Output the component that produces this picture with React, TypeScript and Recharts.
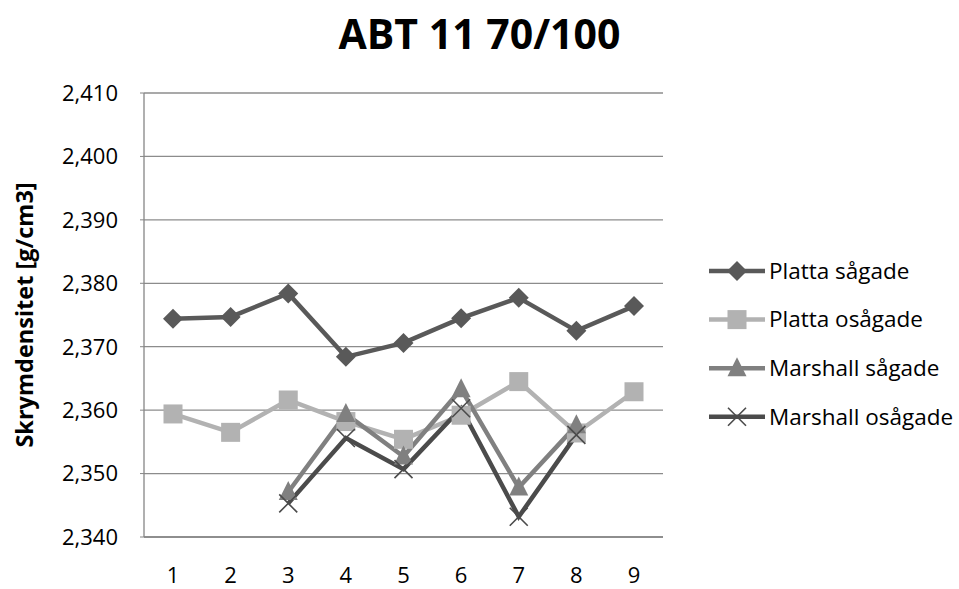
import { CartesianGrid, Line, LineChart, XAxis, YAxis } from 'recharts'

const categories = ['1', '2', '3', '4', '5', '6', '7', '8', '9']
const plattaSagade = [2.3744, 2.3747, 2.3784, 2.3684, 2.3706, 2.3745, 2.3777, 2.3725, 2.3764]
const plattaOsagade = [2.3594, 2.3565, 2.3616, 2.3582, 2.3554, 2.3592, 2.3645, 2.3564, 2.3629]
const marshallSagade = [null, null, 2.3471, 2.3594, 2.3527, 2.3633, 2.3478, 2.3576, null]
const marshallOsagade = [null, null, 2.3453, 2.3556, 2.3507, 2.3603, 2.3432, 2.3561, null]
const yTicks = [2.34, 2.35, 2.36, 2.37, 2.38, 2.39, 2.4, 2.41]

type MarkerKind = 'diamond' | 'square' | 'triangle' | 'cross'

interface SeriesDef {
  key: string
  label: string
  color: string
  marker: MarkerKind
}

const series: SeriesDef[] = [
  { key: 'ps', label: 'Platta sågade', color: '#595959', marker: 'diamond' },
  { key: 'po', label: 'Platta osågade', color: '#b2b2b2', marker: 'square' },
  { key: 'ms', label: 'Marshall sågade', color: '#808080', marker: 'triangle' },
  { key: 'mo', label: 'Marshall osågade', color: '#4b4b4b', marker: 'cross' },
]

const rows = categories.map((cat, i) => ({
  cat,
  ps: plattaSagade[i],
  po: plattaOsagade[i],
  ms: marshallSagade[i],
  mo: marshallOsagade[i],
}))

const FONT = '"Open Sans", Lato, sans-serif'

function markerShape(kind: MarkerKind, cx: number, cy: number, color: string) {
  switch (kind) {
    case 'diamond':
      return <path d={`M${cx},${cy - 10}L${cx + 10},${cy}L${cx},${cy + 10}L${cx - 10},${cy}Z`} fill={color} />
    case 'square':
      return <rect x={cx - 9.5} y={cy - 9.5} width={19} height={19} fill={color} />
    case 'triangle':
      return <path d={`M${cx},${cy - 11}L${cx + 9.5},${cy + 8}L${cx - 9.5},${cy + 8}Z`} fill={color} />
    case 'cross':
      return (
        <path
          d={`M${cx - 9},${cy - 9}L${cx + 9},${cy + 9}M${cx + 9},${cy - 9}L${cx - 9},${cy + 9}`}
          stroke={color}
          strokeWidth={1.6}
          fill="none"
        />
      )
  }
}

function makeDot(s: SeriesDef) {
  return (props: any) => {
    const { cx, cy, value, index } = props
    if (cx == null || cy == null || value == null) return <g key={`${s.key}-${index}`} />
    return <g key={`${s.key}-${index}`}>{markerShape(s.marker, cx, cy, s.color)}</g>
  }
}

const fmt = (v: number) => v.toFixed(3).replace('.', ',')

// legend rows, drawn beside the plot
const legendTop = 246
const legendStep = 48.6

export default function App() {
  return (
    <div
      style={{
        position: 'absolute',
        left: 0,
        top: 0,
        width: 959,
        height: 589,
        background: '#fff',
        fontFamily: FONT,
      }}
    >
      <div
        style={{
          position: 'absolute',
          left: 0,
          top: 6,
          width: 959,
          textAlign: 'center',
          fontSize: 41,
          fontWeight: 700,
          color: '#000',
          lineHeight: '54px',
        }}
      >
        ABT 11 70/100
      </div>
      <LineChart
        width={959}
        height={589}
        data={rows}
        margin={{ top: 93, right: 296, bottom: 0, left: 0 }}
        style={{ position: 'absolute', left: 0, top: 0 }}
      >
        <CartesianGrid vertical={false} stroke="#8c8c8c" strokeWidth={1.3} />
        <XAxis
          dataKey="cat"
          height={52}
          padding={{ left: 29, right: 29 }}
          axisLine={{ stroke: '#868686', strokeWidth: 1.3 }}
          tickLine={false}
          tickSize={0}
          tickMargin={30}
          tick={{ fontSize: 22, fill: '#000', fontFamily: FONT }}
        />
        <YAxis
          width={144}
          domain={[2.34, 2.41]}
          ticks={yTicks}
          tickFormatter={fmt}
          axisLine={{ stroke: '#868686', strokeWidth: 1.3 }}
          tickLine={{ stroke: '#868686' }}
          tickSize={4}
          tickMargin={22}
          tick={{ fontSize: 22, fill: '#000', fontFamily: FONT }}
          label={{
            value: 'Skrymdensitet [g/cm3]',
            angle: -90,
            position: 'insideLeft',
            offset: 25,
            style: { textAnchor: 'middle', fontSize: 23.5, fontWeight: 700, fill: '#000', fontFamily: FONT },
          }}
        />
        {series.map((s) => (
          <Line
            key={s.key}
            type="linear"
            dataKey={s.key}
            name={s.label}
            stroke={s.color}
            strokeWidth={4.5}
            dot={makeDot(s)}
            activeDot={false}
            connectNulls={false}
            isAnimationActive={false}
          />
        ))}
      </LineChart>
      <svg
        width={260}
        height={220}
        style={{ position: 'absolute', left: 700, top: legendTop, overflow: 'visible' }}
      >
        {series.map((s, i) => {
          const y = 25 + i * legendStep
          return (
            <g key={s.key}>
              <line x1={9} x2={65} y1={y} y2={y} stroke={s.color} strokeWidth={4.5} />
              {markerShape(s.marker, 37, y, s.color)}
              <text x={69} y={y} dy="0.35em" fontSize={22.5} fill="#000" fontFamily={FONT}>
                {s.label}
              </text>
            </g>
          )
        })}
      </svg>
    </div>
  )
}
